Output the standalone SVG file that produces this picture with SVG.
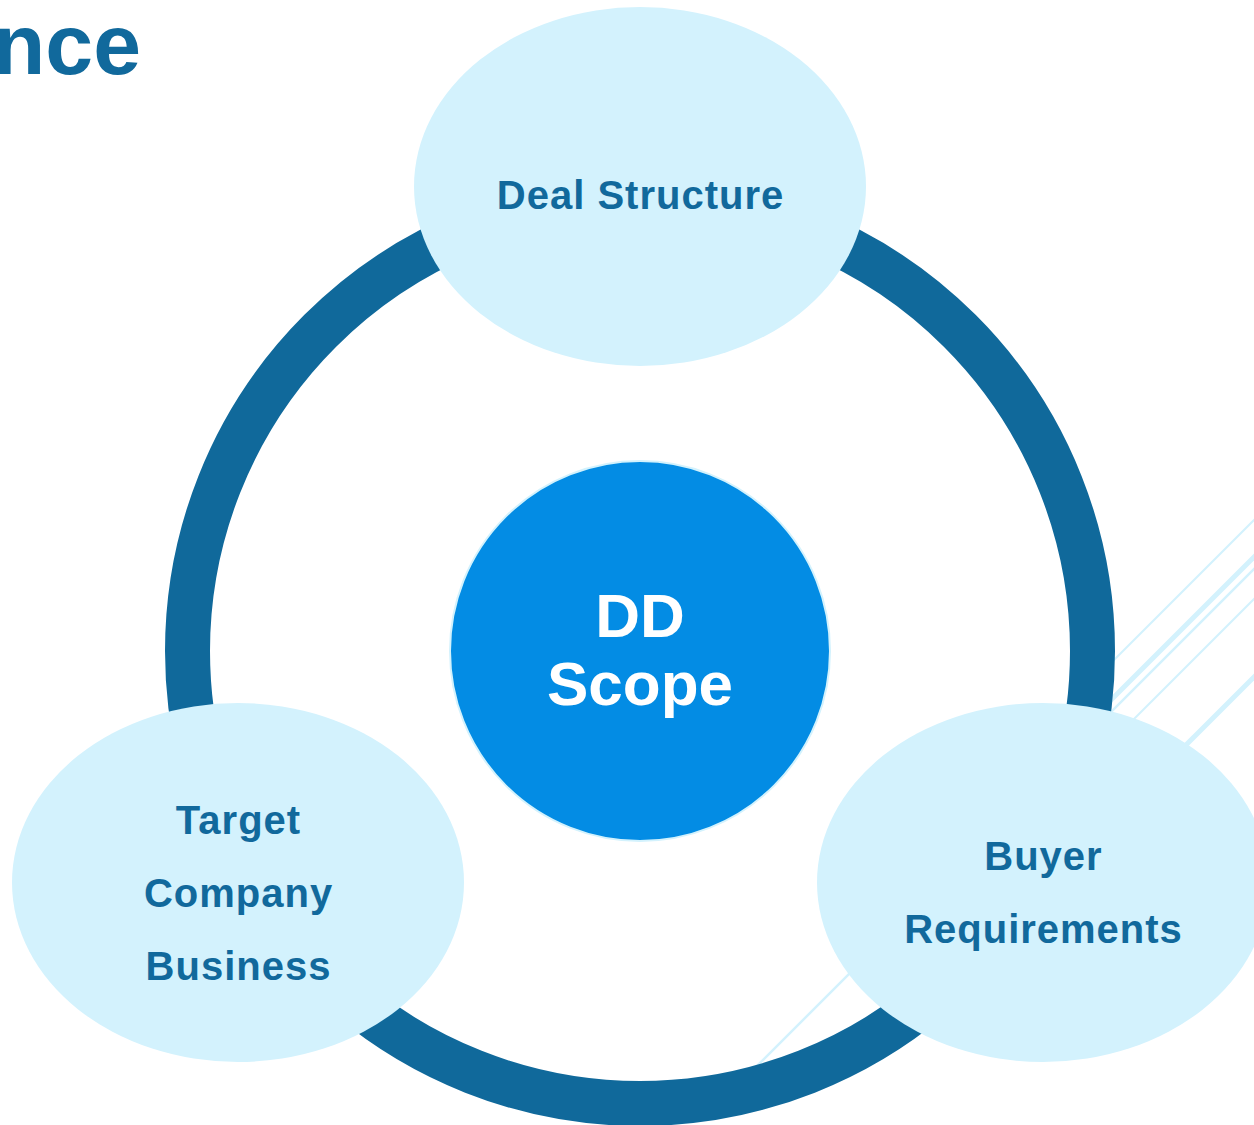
<svg xmlns="http://www.w3.org/2000/svg" width="1254" height="1125" viewBox="0 0 1254 1125">
  <style>
    .deco { stroke: #d3f2fd; fill: none; }
    .ring { fill: none; stroke: #10699b; stroke-width: 45; }
    .node { fill: #d3f2fd; }
    .lbl { font-family: "Liberation Sans", Arial, sans-serif; font-weight: bold; font-size: 40px; fill: #11699c; text-anchor: middle; letter-spacing: 1px; }
    .core { fill: #038ce4; stroke: #d3f2fd; stroke-width: 2; }
    .coreLbl { font-family: "Liberation Sans", Arial, sans-serif; font-weight: bold; font-size: 62px; fill: #ffffff; text-anchor: middle; }
    .title { font-family: "Liberation Sans", Arial, sans-serif; font-weight: bold; font-size: 86px; fill: #11699c; text-anchor: end; }
  </style>
  <rect width="1254" height="1125" fill="#ffffff"/>
  <g id="decor">
    <line class="deco" x1="1100" y1="674" x2="1270" y2="504" stroke-width="2"/>
    <line class="deco" x1="1100" y1="711" x2="1270" y2="541" stroke-width="5"/>
    <line class="deco" x1="750" y1="1073" x2="1270" y2="553" stroke-width="2.5"/>
    <line class="deco" x1="1100" y1="753" x2="1270" y2="583" stroke-width="2"/>
    <line class="deco" x1="1150" y1="781" x2="1270" y2="661" stroke-width="5"/>
  </g>
  <text id="title" class="title" x="141" y="74">nce</text>
  <g id="connectors">
    <circle class="ring" cx="640" cy="651" r="452.5"/>
  </g>
  <g id="deal-structure">
    <ellipse class="node" cx="640" cy="186.5" rx="226" ry="179.5"/>
    <text class="lbl" x="640.5" y="209">Deal Structure</text>
  </g>
  <g id="target-company-business">
    <ellipse class="node" cx="238" cy="882.5" rx="226" ry="179.5"/>
    <text class="lbl" x="238.5" y="834">Target</text>
    <text class="lbl" x="238.5" y="907">Company</text>
    <text class="lbl" x="238.5" y="980">Business</text>
  </g>
  <g id="buyer-requirements">
    <ellipse class="node" cx="1043" cy="882.5" rx="226" ry="179.5"/>
    <text class="lbl" x="1043.5" y="870">Buyer</text>
    <text class="lbl" x="1043.5" y="943">Requirements</text>
  </g>
  <g id="dd-scope">
    <circle class="core" cx="640" cy="651" r="190"/>
    <text class="coreLbl" x="640" y="637">DD</text>
    <text class="coreLbl" x="640" y="705">Scope</text>
  </g>
</svg>
